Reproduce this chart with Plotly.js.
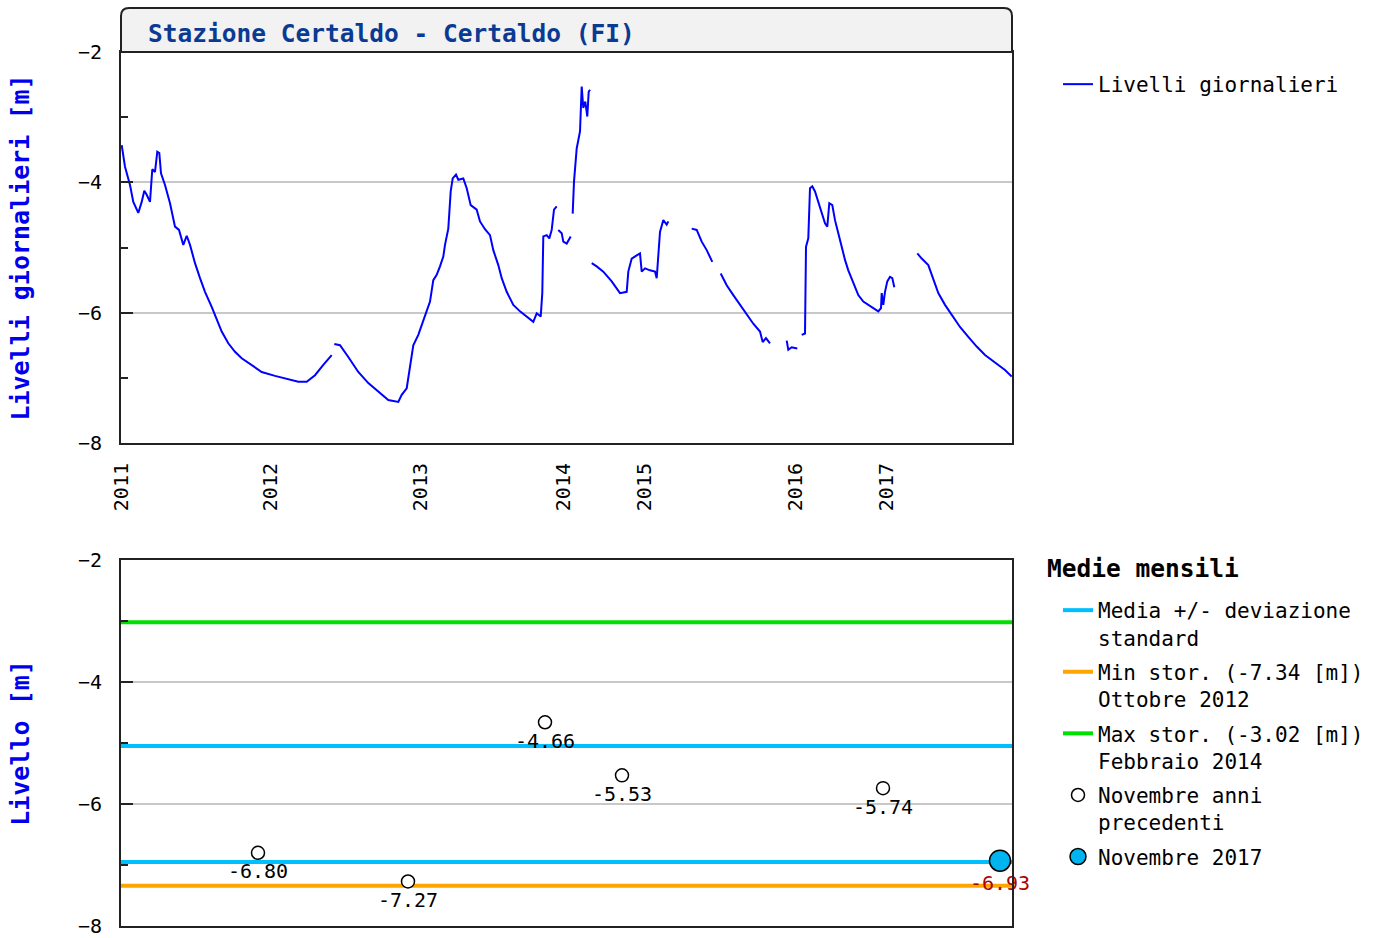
<!DOCTYPE html>
<html><head><meta charset="utf-8">
<script src="https://cdn.plot.ly/plotly-3.0.1.min.js"></script>
<style>html,body{margin:0;padding:0;background:#fff}#chart{width:1382px;height:938px}</style>
</head><body><div id="chart"></div><script>
// ---- daily levels (x = position index along the compressed time axis) ----
const dayIndex = [0.7,4,9,12.3,17.3,20.7,23.3,25.7,29,31.3,34,36.3,38.3,40,44,49,54,58,62.3,65.7,69,74,79,84,90.7,95.7,100.7,107.3,114,120.7,130.7,140.7,154,167.3,177.3,185.7,194,202.3,210.7,
212,
213.3,219,227.3,237.3,247.3,257.3,267.3,277.3,280.7,285.7,288,292.3,297.3,304,309,312.3,315.7,319,322.3,324,327.3,329.7,331.7,335,337.3,342.3,345.7,349.7,355.7,359,364,369,372.3,377.3,380.7,385.7,392.3,399,405.7,412.3,415.7,419.7,421.3,422.3,425.7,428.3,430.7,433,435.7,
436.5,
437.3,440.7,442.3,445.7,449.7,
450.7,
451.7,453,455.7,459,460.7,462.3,464.3,466.3,467.7,469,
469.8,
470.7,475.7,482.3,490.7,499,505.7,507.3,510.7,515.7,519,520.7,524,529,534,535.7,537.3,539,542.3,545.7,547.3,
560,
570.7,575.7,580.7,585.7,591.3,
595,
599.7,605.7,612.3,619,625.7,632.3,639,641.7,645,649,
657,
665.7,667.3,670.7,676.3,
678,
680.7,684,685,687.3,689,691.3,694,699,704,706.3,708.3,711.3,714,717.3,720.7,724,727.3,732.3,737.3,742.3,747.3,752.3,757.3,760,760.7,762.3,764,766.3,769,771.3,773.3,
785,
796.3,800.7,807.3,812.3,817.3,824,830.7,839,847.3,855.7,864,874,884,890.7];
const livelli = [-3.43,-3.76,-4.04,-4.30,-4.47,-4.30,-4.13,-4.19,-4.30,-3.80,-3.84,-3.53,-3.55,-3.86,-4.04,-4.32,-4.68,-4.73,-4.96,-4.82,-4.96,-5.24,-5.47,-5.68,-5.91,-6.11,-6.29,-6.47,-6.60,-6.70,-6.80,-6.91,-6.97,-7.02,-7.06,-7.06,-6.96,-6.80,-6.65,
null,
-6.48,-6.50,-6.68,-6.91,-7.08,-7.21,-7.34,-7.37,-7.26,-7.16,-6.93,-6.50,-6.34,-6.04,-5.83,-5.50,-5.42,-5.29,-5.14,-4.96,-4.71,-4.14,-3.94,-3.88,-3.96,-3.94,-4.09,-4.35,-4.42,-4.60,-4.72,-4.81,-5.04,-5.27,-5.47,-5.68,-5.88,-5.98,-6.06,-6.14,-6.01,-6.06,-5.70,-4.83,-4.81,-4.86,-4.73,-4.42,-4.37,
null,
-4.73,-4.78,-4.91,-4.94,-4.83,
null,
-4.48,-3.99,-3.48,-3.22,-2.53,-2.86,-2.76,-2.99,-2.61,-2.58,
null,
-5.24,-5.29,-5.37,-5.52,-5.70,-5.68,-5.37,-5.17,-5.12,-5.09,-5.37,-5.32,-5.35,-5.37,-5.47,-5.12,-4.76,-4.58,-4.65,-4.60,
null,
-4.71,-4.73,-4.91,-5.04,-5.22,
null,
-5.40,-5.58,-5.73,-5.88,-6.04,-6.17,-6.29,-6.45,-6.39,-6.47,
null,
-6.43,-6.57,-6.53,-6.55,
null,
-6.34,-6.32,-4.99,-4.86,-4.09,-4.06,-4.14,-4.37,-4.63,-4.68,-4.32,-4.35,-4.58,-4.78,-4.99,-5.19,-5.35,-5.55,-5.73,-5.83,-5.88,-5.93,-5.98,-5.93,-5.70,-5.88,-5.68,-5.52,-5.45,-5.47,-5.61,
null,
-5.09,-5.17,-5.27,-5.50,-5.70,-5.88,-6.04,-6.22,-6.37,-6.52,-6.65,-6.77,-6.88,-6.98];

const yearTickIndex = [0,149,299,442,523,674,765];
const yearLabels = ['2011','2012','2013','2014','2015','2016','2017'];
const xRange = [0, 891];

// ---- monthly statistics (November) ----
const mediaDevLevels = [-5.05, -6.95];   // media + dev.st, media - dev.st
const minStorico = [-7.34];
const maxStorico = [-3.02];
const novIndex = [137, 287, 424, 501, 762];
const novValues = [-6.80, -7.27, -4.66, -5.53, -5.74];
const nov2017Index = [879];
const nov2017Value = [-6.93];

const MONO = '"DejaVu Sans Mono", "Liberation Mono", monospace';

function hline(levels){
  const x = [], y = [];
  levels.forEach((v,i)=>{ if(i>0){x.push(null);y.push(null);} x.push(xRange[0],xRange[1]); y.push(v,v); });
  return {x, y};
}

const traces = [
  {x: dayIndex, y: livelli, type:'scatter', mode:'lines', name:'Livelli giornalieri',
   line:{color:'#0000ff', width:2}, connectgaps:false, xaxis:'x', yaxis:'y', legend:'legend'},
  Object.assign(hline(mediaDevLevels), {type:'scatter', mode:'lines', name:'Media +/- deviazione<br>standard',
   line:{color:'#00bfff', width:4}, xaxis:'x2', yaxis:'y2', legend:'legend2', legendgroup:'g1'}),
  Object.assign(hline(minStorico), {type:'scatter', mode:'lines', name:'Min stor. (-7.34 [m])<br>Ottobre 2012',
   line:{color:'#ffa500', width:4}, xaxis:'x2', yaxis:'y2', legend:'legend2', legendgroup:'g2'}),
  Object.assign(hline(maxStorico), {type:'scatter', mode:'lines', name:'Max stor. (-3.02 [m])<br>Febbraio 2014',
   line:{color:'#00e000', width:4}, xaxis:'x2', yaxis:'y2', legend:'legend2', legendgroup:'g3'}),
  {x: novIndex, y: novValues, type:'scatter', mode:'markers', name:'Novembre anni<br>precedenti',
   marker:{symbol:'circle', size:13, color:'#ffffff', line:{color:'#000', width:1.5}},
   xaxis:'x2', yaxis:'y2', legend:'legend2', legendgroup:'g4', cliponaxis:false},
  {x: novIndex, y: novValues, type:'scatter', mode:'markers+text', text: novValues.map(v=>v.toFixed(2)),
   marker:{size:15, opacity:0}, textposition:'bottom center', textfont:{family:MONO, size:20, color:'#000'},
   showlegend:false, xaxis:'x2', yaxis:'y2', cliponaxis:false, hoverinfo:'skip'},
  {x: nov2017Index, y: nov2017Value, type:'scatter', mode:'markers', name:'Novembre 2017',
   marker:{symbol:'circle', size:21, color:'#00b4f0', line:{color:'#000', width:1.5}},
   xaxis:'x2', yaxis:'y2', legend:'legend2', legendgroup:'g5', cliponaxis:false},
  {x: nov2017Index, y: nov2017Value, type:'scatter', mode:'markers+text', text: nov2017Value.map(v=>v.toFixed(2)),
   marker:{size:22, opacity:0}, textposition:'bottom center', textfont:{family:MONO, size:20, color:'#b00000'},
   showlegend:false, xaxis:'x2', yaxis:'y2', cliponaxis:false, hoverinfo:'skip'}
];

const TOP = 8, BOTTOM = 926, H = BOTTOM - TOP; // plot region in pixels (from margins)
const py = p => (BOTTOM - p) / H; // pixel y -> paper y
const rx = 8/891, ry = 8/H;
const boxBottom = py(52);

const yCommon = {
  range:[-8,-2], dtick:2, ticks:'inside', ticklen:12, tickwidth:2, tickcolor:'#222',
  minor:{dtick:1, ticks:'inside', ticklen:7, tickwidth:2, tickcolor:'#222', showgrid:false},
  showgrid:true, gridcolor:'#c8c8c8', gridwidth:2, zeroline:false,
  showline:true, mirror:true, linecolor:'#222', linewidth:2, ticklabeloverflow:'allow',
  tickfont:{family:MONO, size:20, color:'#000'}, ticklabelstandoff:13
};
const yTitleFont = {family:MONO, size:25, weight:'bold', color:'#0000ee'};

const layout = {
  width:1382, height:938,
  margin:{l:121, r:370, t:TOP, b:938-BOTTOM},
  paper_bgcolor:'#ffffff', plot_bgcolor:'#ffffff',
  font:{family:MONO, size:20, color:'#000'},
  showlegend:true,
  title:{text:'Stazione Certaldo - Certaldo (FI)', font:{family:MONO, size:24.5, weight:'bold', color:'#0b3a93'},
         xref:'paper', x:27/891, xanchor:'left', yref:'container', y:1-33/938, yanchor:'middle'},
  xaxis:{domain:[0,1], range:xRange, anchor:'y', tickmode:'array', tickvals:yearTickIndex, ticktext:yearLabels,
         tickangle:-90, ticks:'', showgrid:false, zeroline:false, showline:true, mirror:true,
         linecolor:'#222', linewidth:2, tickfont:{family:MONO, size:20, color:'#000'}, ticklabelstandoff:10},
  yaxis:Object.assign({}, yCommon, {domain:[py(443), boxBottom], anchor:'x',
         title:{text:'Livelli giornalieri [m]', font:yTitleFont, standoff:41}}),
  xaxis2:{domain:[0,1], range:xRange, anchor:'y2', showticklabels:false, ticks:'', showgrid:false,
         zeroline:false, showline:true, mirror:true, linecolor:'#222', linewidth:2},
  yaxis2:Object.assign({}, yCommon, {domain:[0, py(560)], anchor:'x2',
         title:{text:'Livello [m]', font:yTitleFont, standoff:41}}),
  legend:{x:(1058-121)/891, xanchor:'left', y:py(64), yanchor:'top', bgcolor:'rgba(0,0,0,0)',
          font:{family:MONO, size:21, color:'#000'}, valign:'top', itemclick:false},
  legend2:{x:(1058-121)/891, xanchor:'left', y:py(590), yanchor:'top', bgcolor:'rgba(0,0,0,0)',
          font:{family:MONO, size:21, color:'#000'}, valign:'top', tracegroupgap:4},
  annotations:[{text:'Medie mensili', xref:'paper', yref:'paper', x:(1045-121)/891, y:py(568),
          xanchor:'left', yanchor:'middle', showarrow:false,
          font:{family:MONO, size:24.5, weight:'bold', color:'#000'}}],
  shapes:[{type:'path', xref:'paper', yref:'paper', layer:'above',
           path:`M 0,${boxBottom} L 0,${1-ry} Q 0,1 ${rx},1 L ${1-rx},1 Q 1,1 1,${1-ry} L 1,${boxBottom} Z`,
           fillcolor:'#f2f2f2', line:{color:'#222', width:2}}]
};

Plotly.newPlot('chart', traces, layout, {displayModeBar:false, staticPlot:true});
</script></body></html>
